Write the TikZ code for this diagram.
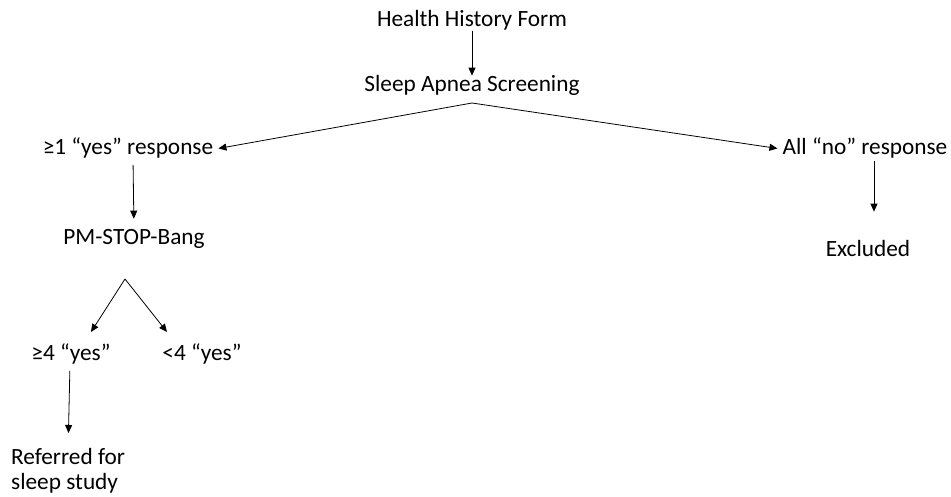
\documentclass[tikz,border=0pt]{standalone}
\usepackage{fontspec}
\setmainfont{Carlito}
\usetikzlibrary{arrows.meta,calc}
\begin{document}
\begin{tikzpicture}[x=1pt,y=-1pt,
  txt/.style={font=\fontsize{23.3}{25.5}\selectfont, inner sep=0pt, anchor=base},
  conn/.style={-{Triangle[length=8pt,width=7pt]}, line width=0.8pt}]
\useasboundingbox[fill=white] (0,0) rectangle (951,497);
\node[txt] (hhf) at (472,27) {Health History Form};
\node[txt] (sas) at (472,92) {Sleep Apnea Screening};
\node[txt] (resp1) at (128,155) {≥1 “yes” response};
\node[txt] (resp2) at (865,155) {All “no” response};
\node[txt] (pm) at (134,245) {PM-STOP-Bang};
\node[txt] (excl) at (868,257) {Excluded};
\node[txt] (ge4) at (71,360) {≥4 “yes”};
\node[txt] (lt4) at (202,360) {<4 “yes”};
\node[txt, anchor=north west, align=left] (ref) at (11,448) {Referred for\\sleep study};
\coordinate (s1) at (472,103);
\coordinate (s2) at (125,279);
\draw[conn] (hhf) -- (sas);
\draw[conn] (s1) -- ([xshift=5pt]resp1.east);
\draw[conn] (s1) -- ([xshift=-5pt]resp2.west);
\draw[conn, shorten <=6pt, shorten >=11pt] ([xshift=5pt]resp1.south) -- ([xshift=0pt]pm.north);
\draw[conn] (s2) -- ([xshift=20pt,yshift=11pt]ge4.north);
\draw[conn] (s2) -- ([xshift=-35pt,yshift=11pt]lt4.north);
\draw[conn, shorten <=7pt, shorten >=15pt] ([xshift=-1pt]ge4.south) -- (ref.north);
\draw[conn, shorten <=2pt, shorten >=29pt] ([xshift=9pt]resp2.south) -- ([xshift=9pt]resp2.south |- excl.north);
\end{tikzpicture}
\end{document}
